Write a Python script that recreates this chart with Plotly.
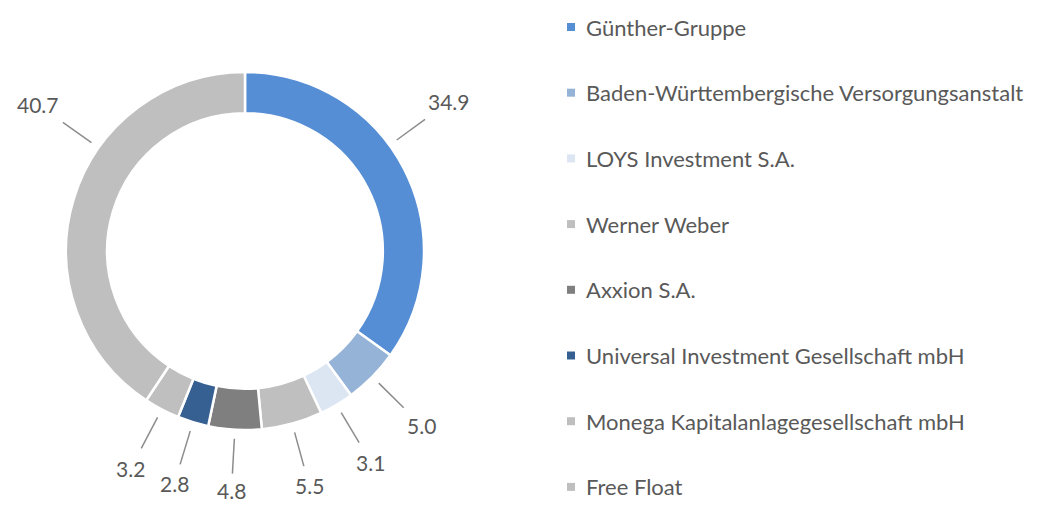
import math
import plotly.graph_objects as go

# ---- data ----
holders = [
    "Günther-Gruppe",
    "Baden-Württembergische Versorgungsanstalt",
    "LOYS Investment S.A.",
    "Werner Weber",
    "Axxion S.A.",
    "Universal Investment Gesellschaft mbH",
    "Monega Kapitalanlagegesellschaft mbH",
    "Free Float",
]
shares = [34.9, 5.0, 3.1, 5.5, 4.8, 2.8, 3.2, 40.7]
value_labels = ["34.9", "5.0", "3.1", "5.5", "4.8", "2.8", "3.2", "40.7"]

# ---- style ----
colors = ["#558ed5", "#95b3d7", "#dce6f2", "#bfbfbf", "#7f7f7f", "#376092", "#bfbfbf", "#bfbfbf"]
# angular shift (degrees) for label placement of the two large slices
label_shift = {"Günther-Gruppe": -9.0, "Free Float": 18.5}

W, H = 1040, 507
CX, CY, R = 245, 251, 179       # pixel centre / outer radius of the donut
HOLE = 0.77
TEXT_COLOR = "#595959"
FONT = "Lato"
FS_LABEL = 21
FS_LEGEND = 22

def px_to_paper(x, y):
    return x / W, 1 - y / H

fig = go.Figure(
    go.Pie(
        labels=holders,
        values=shares,
        sort=False,
        direction="clockwise",
        rotation=0,
        hole=HOLE,
        textinfo="none",
        hoverinfo="label+value",
        marker=dict(colors=colors, line=dict(color="white", width=2.5)),
        showlegend=False,
        domain=dict(x=[(CX - R) / W, (CX + R) / W], y=[1 - (CY + R) / H, 1 - (CY - R) / H]),
    )
)

annotations = []
shapes = []
total = sum(shares)
cum = 0.0
for name, v, lab in zip(holders, shares, value_labels):
    mid = (cum + v / 2) / total * 360.0 + label_shift.get(name, 0.0)
    cum += v
    a = math.radians(mid)
    dx, dy = math.sin(a), -math.cos(a)
    r0, r1 = R + 9, R + 44
    tw, th = len(lab) * 10.7, 16.0
    rt = r1 + 8 + abs(dx) * tw / 2 + abs(dy) * th / 2
    x0, y0 = px_to_paper(CX + dx * r0, CY + dy * r0)
    x1, y1 = px_to_paper(CX + dx * r1, CY + dy * r1)
    xt, yt = px_to_paper(CX + dx * rt, CY + dy * rt)
    shapes.append(dict(type="line", xref="paper", yref="paper", x0=x0, y0=y0, x1=x1, y1=y1,
                       line=dict(color="#8c8c8c", width=1.5)))
    annotations.append(dict(x=xt, y=yt, xref="paper", yref="paper", text=lab, showarrow=False,
                            xanchor="center", yanchor="middle",
                            font=dict(family=FONT, size=FS_LABEL, color=TEXT_COLOR)))

# manual legend
LEG_X, LEG_Y0, LEG_DY, SQ = 571, 27, 65.7, 8
for i, (name, c) in enumerate(zip(holders, colors)):
    yc = LEG_Y0 + i * LEG_DY
    xa, ya = px_to_paper(LEG_X - SQ / 2, yc - SQ / 2)
    xb, yb = px_to_paper(LEG_X + SQ / 2, yc + SQ / 2)
    shapes.append(dict(type="rect", xref="paper", yref="paper", x0=xa, y0=ya, x1=xb, y1=yb,
                       fillcolor=c, line=dict(width=0)))
    xt, yt = px_to_paper(LEG_X + 13, yc)
    annotations.append(dict(x=xt, y=yt, xref="paper", yref="paper", text=name, showarrow=False,
                            xanchor="left", yanchor="middle",
                            font=dict(family=FONT, size=FS_LEGEND, color=TEXT_COLOR)))

fig.update_layout(
    width=W, height=H,
    margin=dict(l=0, r=0, t=0, b=0),
    paper_bgcolor="white", plot_bgcolor="white",
    annotations=annotations, shapes=shapes,
)
fig.write_html("out.html", config={"displayModeBar": False},
               post_script="document.body.style.margin='0px';document.body.style.overflow='hidden';")
